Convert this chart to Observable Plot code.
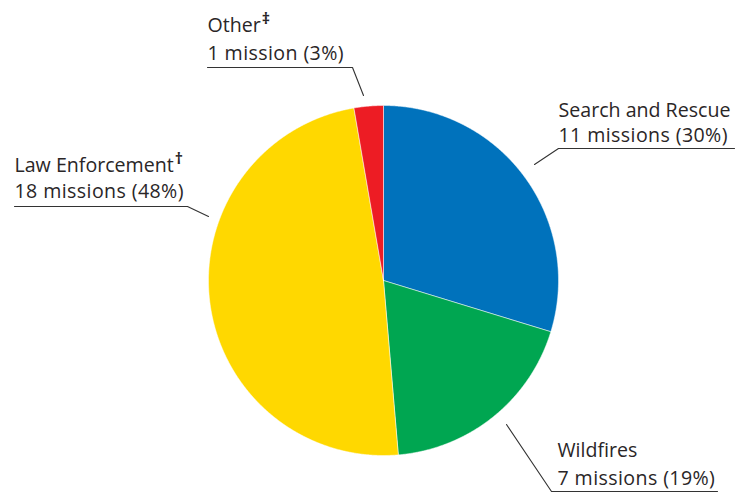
<!DOCTYPE html>
<html><head><meta charset="utf-8">
<script src="https://cdn.jsdelivr.net/npm/d3@7"></script>
<script src="https://cdn.jsdelivr.net/npm/@observablehq/plot@0.6"></script>
<style>body{margin:0;background:#fff} .countlab text{letter-spacing:0.4px}</style>
</head><body><div id="chart"></div>
<script>
// ---- data ----
const categories = ["Search and Rescue", "Wildfires", "Law Enforcement", "Other"];
const missions = [11, 7, 18, 1];
const countLabels = ["11 missions (30%)", "7 missions (19%)", "18 missions (48%)", "1 mission (3%)"];
const footnoteMarks = ["", "", "†", "‡"];
const colors = ["#0072BC", "#00A651", "#FFD800", "#ED1C24"];

// ---- layout (pixels) ----
const W = 744, H = 493, cx = 383, cy = 280, R = 175;
const labelLayout = [
  {leader: [[534, 164], [558, 148], [734, 148]], tx: 558, y1: 116, y2: 141},
  {leader: [[506, 424], [551, 491], [717, 491]], tx: 557, y1: 456, y2: 484},
  {leader: [[208, 216], [187, 206], [14, 206]], tx: 14, y1: 171, y2: 197},
  {leader: [[363, 95], [352, 67], [207, 67]], tx: 207, y1: 31, y2: 59}
];

const arcs = d3.pie().sort(null)(missions);
const slicePts = [];
arcs.forEach((a, i) => {
  const name = categories[i];
  slicePts.push({name, x: cx, y: cy});
  const n = Math.max(2, Math.ceil((a.endAngle - a.startAngle) / 0.005));
  for (let k = 0; k <= n; k++) {
    const t = a.startAngle + (a.endAngle - a.startAngle) * k / n;
    slicePts.push({name, x: cx + R * Math.sin(t), y: cy - R * Math.cos(t)});
  }
  slicePts.push({name, x: cx, y: cy});
});

const leaderPts = [];
labelLayout.forEach((l, i) => l.leader.forEach(([x, y]) => leaderPts.push({name: categories[i], x, y})));

const nameLabels = categories.map((c, i) => ({text: c, x: labelLayout[i].tx, y: labelLayout[i].y1}));
const countRows = countLabels.map((c, i) => ({text: c, x: labelLayout[i].tx, y: labelLayout[i].y2}));

const chart = Plot.plot({
  width: W, height: H, margin: 0,
  style: {fontFamily: "'Open Sans', sans-serif", background: "#fff"},
  x: {domain: [0, W], range: [0, W], axis: null},
  y: {domain: [0, H], range: [0, H], axis: null},
  color: {domain: categories, range: colors},
  marks: [
    Plot.line(slicePts, {x: "x", y: "y", z: "name", fill: "name", stroke: "#fff", strokeWidth: 0.5, curve: "linear"}),
    Plot.line(leaderPts, {x: "x", y: "y", z: "name", stroke: "#333", strokeWidth: 1.1}),
    Plot.text(nameLabels, {x: "x", y: "y", text: "text", textAnchor: "start", lineAnchor: "bottom", fontSize: 19.6, fill: "#2a2627", className: "namelab"}),
    Plot.text(countRows, {x: "x", y: "y", text: "text", textAnchor: "start", lineAnchor: "bottom", fontSize: 19.6, fill: "#2a2627", className: "countlab"})
  ]
});
document.getElementById("chart").appendChild(chart);

// add superscript footnote marks
d3.select(chart).selectAll(".namelab text").each(function() {
  const t = this.textContent;
  const i = categories.indexOf(t);
  if (i >= 0 && footnoteMarks[i]) {
    d3.select(this).append("tspan").attr("dx", 1).attr("dy", -8).attr("font-size", 16).attr("font-weight", "bold").text(footnoteMarks[i]);
  }
});
</script>
</body></html>
